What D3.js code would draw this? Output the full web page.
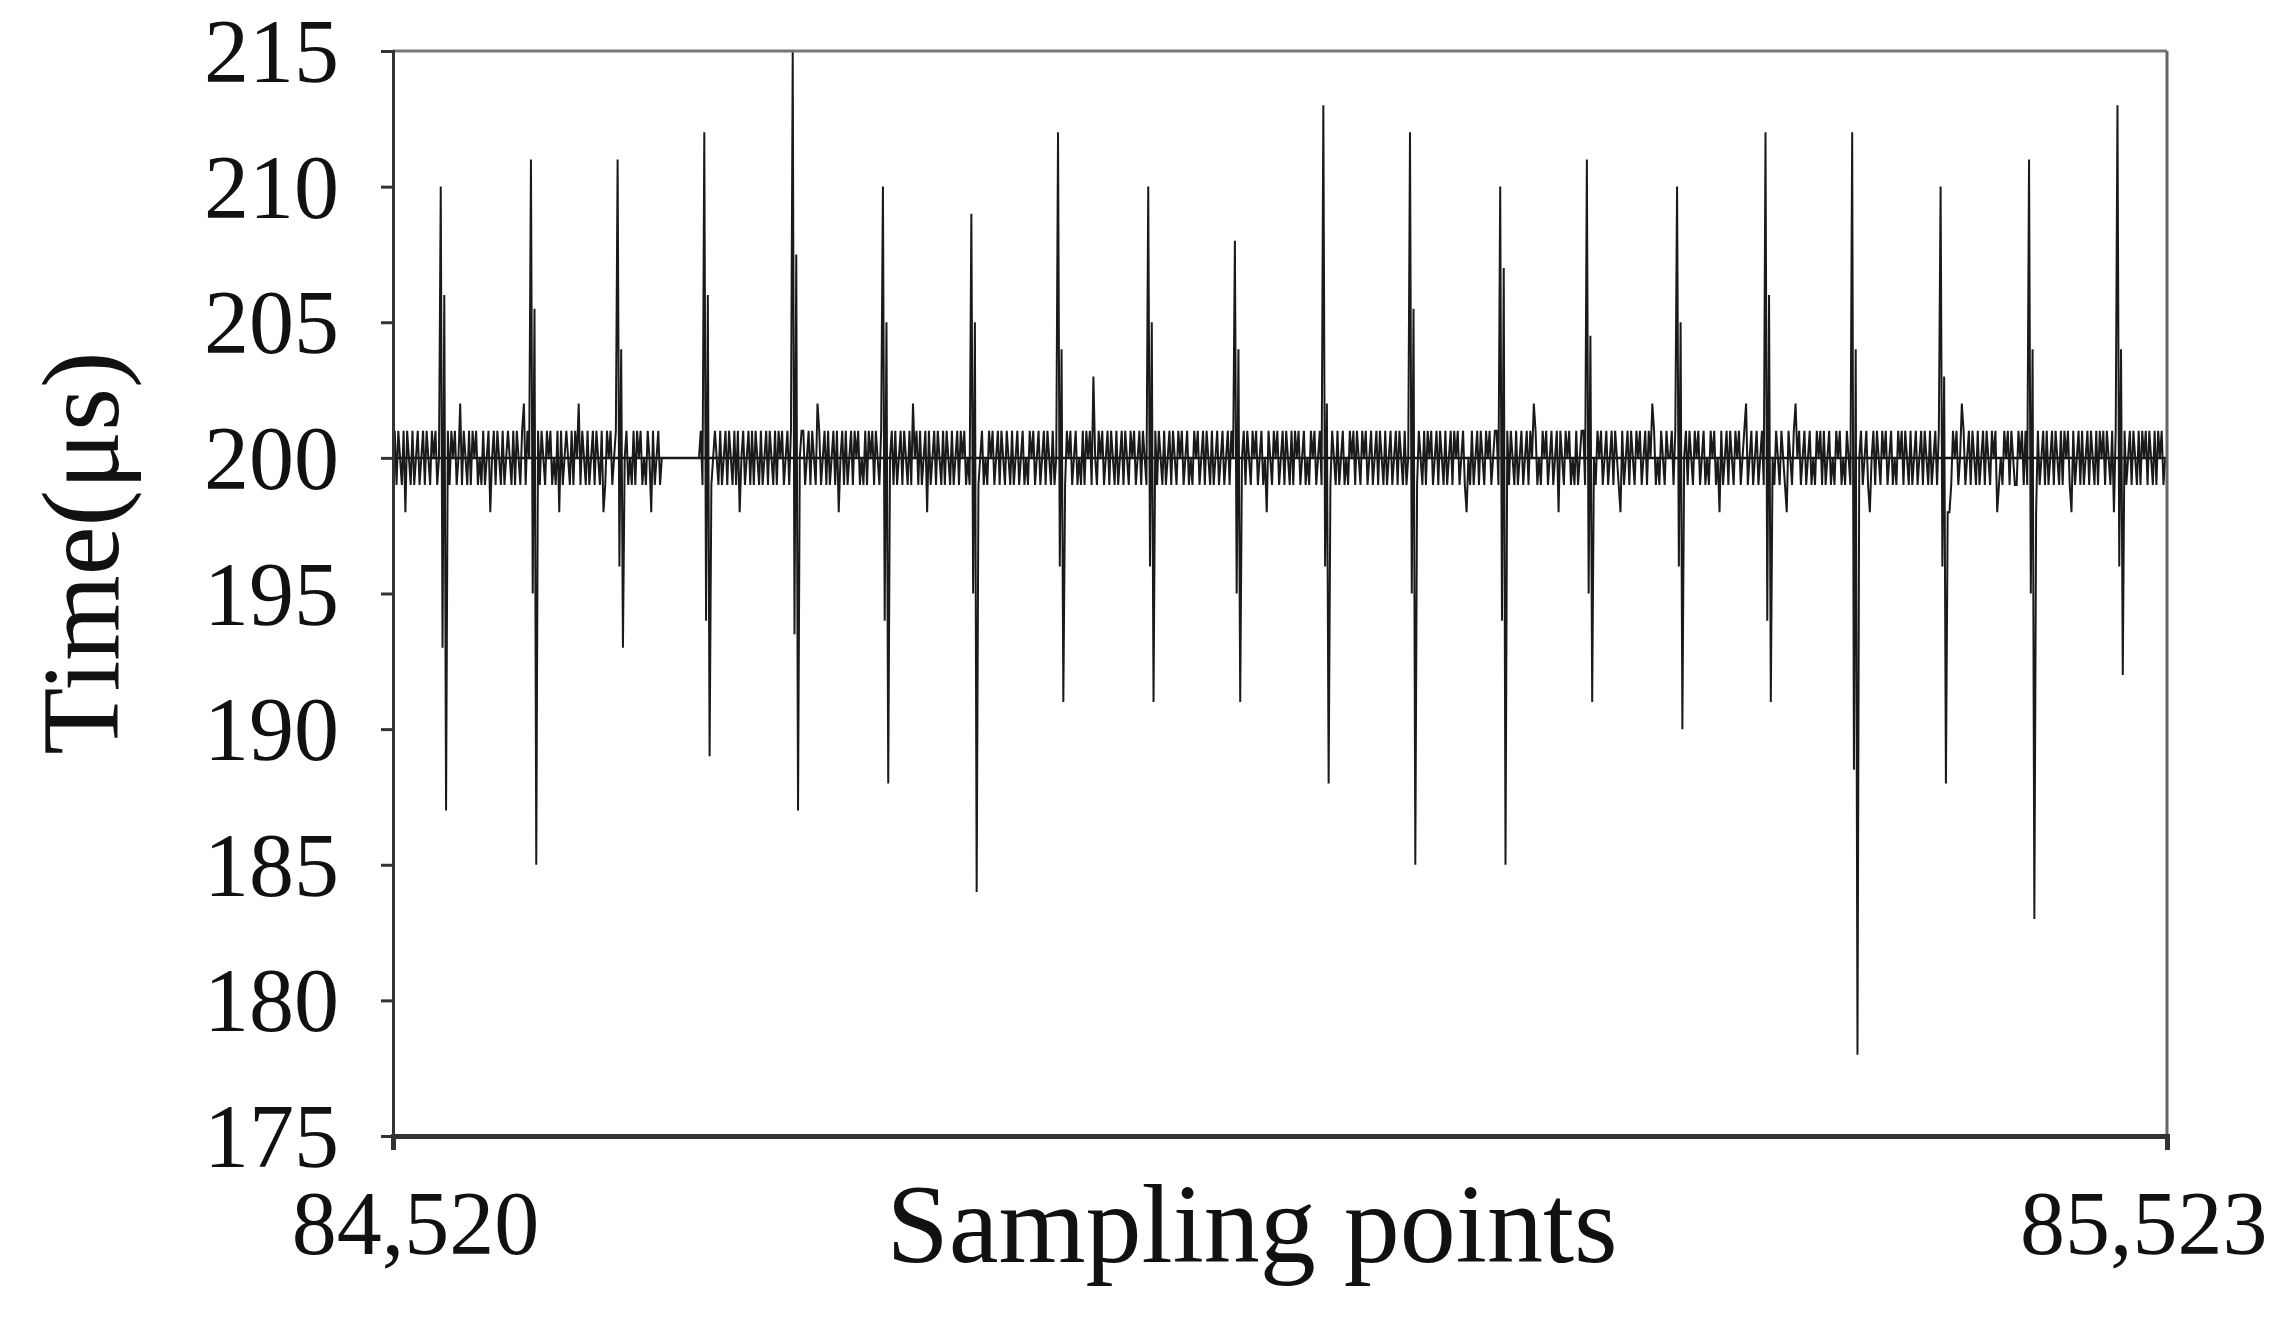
<!DOCTYPE html>
<html><head><meta charset="utf-8">
<script src="https://cdn.jsdelivr.net/npm/d3@7/dist/d3.min.js"></script>
<style>body{margin:0;background:#fff}</style></head>
<body><svg id="c" width="2283" height="1327"></svg>
<script>
const xStart = 84520, xEnd = 85523;
const yTicks = [175,180,185,190,195,200,205,210,215];
const xTickLabels = ["84,520","85,523"];
// spikes: sample offset, peak, inner low, inner high, trough
const spikeIdx    = [27, 78,127,176,226,277,327,376,427,476,526,575,626,675,726,776,825,875,925,975];
const spikeTop    = [210,211,211,212,215,210,209,212,210,208,213,212,210,211,210,212,212,210,211,213];
const spikeInLow  = [193,195,196,194,193.5,194,195,196,196,195,196,195,194,195,196,194,188.5,196,195,196];
const spikeInHigh = [206,205.5,204,206,207.5,205,205,204,205,204,202,205.5,207,204.5,205,206,204,203,204,204];
const spikeBottom = [187,185,193,189,187,188,184,191,191,191,188,185,185,191,190,191,178,188,183,192];
// noise: 0=200, +=201, -=199, P=202, M=198, Q=203
const noise = [
"0+-+0-+M+0-+-0+-0+-+0-+0+-0-+0-+-+0+-",
"0P-+0-+-+0+-0-+-0+M0+-+0-+-0+0-+-+0-+P-+0-+-0+-+0",
"-+0+-0-+M+-0+0-+-+0P-+0-+-0+-+0-+M-+0+-0+-+0-0+-",
"0-+-+0+-0-+0M+-0+-0000000000000000000000+-+0-+-0+0-",
"+-0+-+0-+-+M0+-0+-+-+0-+-0+-+0-+-+0+-0+-+0-+-0+",
"+-0+-+0-P+-0+-+-0+-+M0+-+-0+-+0+-0-+-+0+-+0-+-0+-",
"0+-+-0+-+0-+-P0+-+-0+M+-0+-+0-+-+0-+-0+-+0+-0-+-0",
"+-0+-0-+0+-0+-+0-+0-+-0+-0+-0-+0+-0+-0+-+0-+-0+-+",
"0-+0+-0+-0-+-+0+-Q0-+0+-0+-+0-+-0+-+0-+0+-0+-+0-+",
"-+0+-+0-+-0+-+0-+0+-0+-0-+0+-0+-+0-+-0+-0+-0+-+0-",
"0+-0+-+0-+0+-0+-0M+0-+0+-0+-+0-+-+0+-0+-0-+0+-0+-",
"+-0+-+0-+-0+-0-+0+-+0-+0+-0+-0+-+0-+-0+-0+-+0-+-0",
"+-0+-+0-+-+0+-0+-+0-+-0+-+0+-0+-M0-+-0+-+0-+0+-0+",
"+-0-+0+-+0-+-0+-0+-+0P+-0-+0+-0+-0+M+0-+0+-0-+-0+",
"+-0+-+0-+0+-0+-0+-+0-M+-0+-+0-+0+-0+-+0P+-0-+0-+0",
"0+-+0-+-0+-+0-+0+-0+-0-+0+-0M+-0+-+0-+0+-0+P-0+-0",
"+-0+-0+-+0-+0-+0-M+0-+P0+-0+-0+-0-+0+-+-0+-0-+0+-",
"0-+0-+0+-0+-0+-M0+-+0-+0+-0+-0-+0+-+0-+-0+-0+-+0-",
"+-0+-+0-+-MM-+0+-0P+-0+-+0-+-0+-+0-+0+M-0-+0+-+0-",
"-+0+-+-+0-+M+-0+-+-0+-+0-+-+0+-M+-0+-+-0+-+0-+-+0",
"+-+0-+M+-0+-+-0+-+0-+-+0+-+0-+-+0+-"
].join("");

const N = xEnd - xStart + 1;
const map = {"0":200,"+":201,"-":199,"P":202,"M":198,"Q":203};
const vals = [];
for (let i=0;i<N;i++) vals.push(i<noise.length ? map[noise[i]] : 200);
spikeIdx.forEach((s,k)=>{
  vals[s]=spikeTop[k]; vals[s+1]=spikeInLow[k]; vals[s+2]=spikeInHigh[k]; vals[s+3]=spikeBottom[k];
});
const data = vals.map((v,i)=>({x:xStart+i,y:v}));

const L=393,R=2167,T=51,B=1136;
const svg=d3.select("#c");
const x=d3.scaleLinear().domain([xStart,xEnd]).range([L,R]);
const y=d3.scaleLinear().domain([175,215]).range([B,T]);
const font="'Liberation Serif','DejaVu Serif',serif";

svg.append("line").attr("x1",L).attr("x2",R).attr("y1",y(200)).attr("y2",y(200)).attr("stroke","#111").attr("stroke-width",2.5);
svg.append("path").datum(data).attr("fill","none").attr("stroke","#1a1a1a").attr("stroke-width",2)
  .attr("d",d3.line().x(d=>x(d.x)).y(d=>y(d.y)));

// frame
svg.append("line").attr("x1",L).attr("x2",R).attr("y1",T).attr("y2",T).attr("stroke","#777").attr("stroke-width",3);
svg.append("line").attr("x1",R).attr("x2",R).attr("y1",T).attr("y2",B).attr("stroke","#666").attr("stroke-width",3);

const ya=svg.append("g").attr("transform",`translate(${L},0)`)
  .call(d3.axisLeft(y).tickValues(yTicks).tickSize(12).tickPadding(42));
ya.select(".domain").attr("stroke","#333").attr("stroke-width",3);
ya.selectAll(".tick line").attr("stroke","#333").attr("stroke-width",3);
ya.selectAll("text").attr("font-family",font).attr("font-size",90).attr("fill","#111").attr("dy","0.34em");

const xa=svg.append("g").attr("transform",`translate(0,${B})`)
  .call(d3.axisBottom(x).tickValues([xStart,xEnd]).tickFormat((d,i)=>xTickLabels[i]).tickSize(14).tickPadding(0));
xa.select(".domain").attr("stroke","#333").attr("stroke-width",5);
xa.selectAll(".tick line").attr("stroke","#333").attr("stroke-width",2);
xa.selectAll("text").attr("font-family",font).attr("font-size",90).attr("fill","#111").attr("dy",0).attr("y",118)
  .attr("text-anchor",(d,i)=>i===0?"middle":"end").attr("x",(d,i)=>i===0?22:100);

svg.append("text").attr("x",1252).attr("y",1262).attr("text-anchor","middle")
  .attr("font-family",font).attr("font-size",112).attr("fill","#111").text("Sampling points");
svg.append("text").attr("transform","translate(118,553) rotate(-90)").attr("text-anchor","middle")
  .attr("font-family",font).attr("font-size",110).attr("fill","#111").text("Time(μs)");
</script></body></html>
